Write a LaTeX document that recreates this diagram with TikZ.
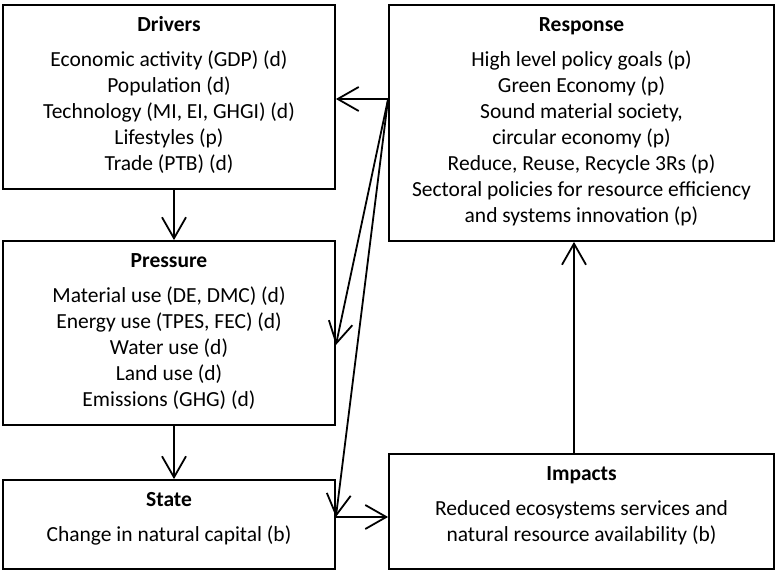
\documentclass[tikz,border=0pt]{standalone}
\usepackage{fontspec}
\setmainfont{Carlito}
\usetikzlibrary{arrows.meta}
\begin{document}
\begin{tikzpicture}[x=1pt,y=-1pt,
  box/.style={draw, line width=1.8pt, inner sep=0pt, rectangle},
  ttl/.style={anchor=mid, inner sep=0pt, font=\fontsize{21.5}{26}\selectfont\bfseries},
  txt/.style={anchor=mid, inner sep=0pt, font=\fontsize{21.5}{26}\selectfont},
  conn/.style={line width=1.8pt, -{Straight Barb[length=21pt,width=24pt,line width=1.8pt]}},
  plain/.style={line width=1.8pt}]
\useasboundingbox (0,0) rectangle (776,572);
% boxes
\node[box, minimum width=332pt, minimum height=184pt] (drivers) at (169,97) {};
\node[box, minimum width=332pt, minimum height=184pt] (pressure) at (169,333) {};
\node[box, minimum width=332pt, minimum height=89pt] (state) at (169,524.5) {};
\node[box, minimum width=385pt, minimum height=236pt] (response) at (581.5,123) {};
\node[box, minimum width=385pt, minimum height=115pt] (impacts) at (581.5,511.5) {};
% Drivers text
\node[ttl] (dt) at (169,29) {Drivers};
\foreach \t [count=\i] in {Economic activity (GDP) (d), Population (d), {Technology (MI, EI, GHGI) (d)}, Lifestyles (p), Trade (PTB) (d)}
  \node[txt] (d\i) at (169,{64+26*(\i-1)}) {\t};
% Pressure text
\node[ttl] (pt) at (169,265) {Pressure};
\foreach \t [count=\i] in {{Material use (DE, DMC) (d)}, {Energy use (TPES, FEC) (d)}, Water use (d), Land use (d), Emissions (GHG) (d)}
  \node[txt] (p\i) at (169,{300+26*(\i-1)}) {\t};
% State text
\node[ttl] (st) at (169,504) {State};
\node[txt] (s1) at (169,539) {Change in natural capital (b)};
% Response text
\node[ttl] (rt) at (581.5,29) {Response};
\foreach \t [count=\i] in {High level policy goals (p), Green Economy (p), {Sound material society,}, circular economy (p), {Reduce, Reuse, Recycle 3Rs (p)}, Sectoral policies for resource efficiency, and systems innovation (p)}
  \node[txt] (r\i) at (581.5,{64+26*(\i-1)}) {\t};
% Impacts text
\node[ttl] (it) at (581.5,478) {Impacts};
\node[txt] (i1) at (581.5,513) {Reduced ecosystems services and};
\node[txt] (i2) at (581.5,539) {natural resource availability (b)};
% helper coordinates
\coordinate (ax) at (174,0);
\coordinate (bx) at (574,0);
\coordinate (src) at (response.west |- 0,99);
\coordinate (py) at (0,345);
\coordinate (sy) at (0,517);
% connectors
\draw[conn] (drivers.south -| ax) -- (pressure.north -| ax);
\draw[conn] (pressure.south -| ax) -- (state.north -| ax);
\draw[conn] (src) -- (drivers.east |- src);
\draw[conn] (src) -- (pressure.east |- py);
\draw[conn] (src) -- (state.east |- sy);
\draw[conn] (state.east |- sy) -- (impacts.west |- sy);
\draw[conn] (impacts.north -| bx) -- (response.south -| bx);
\end{tikzpicture}
\end{document}
